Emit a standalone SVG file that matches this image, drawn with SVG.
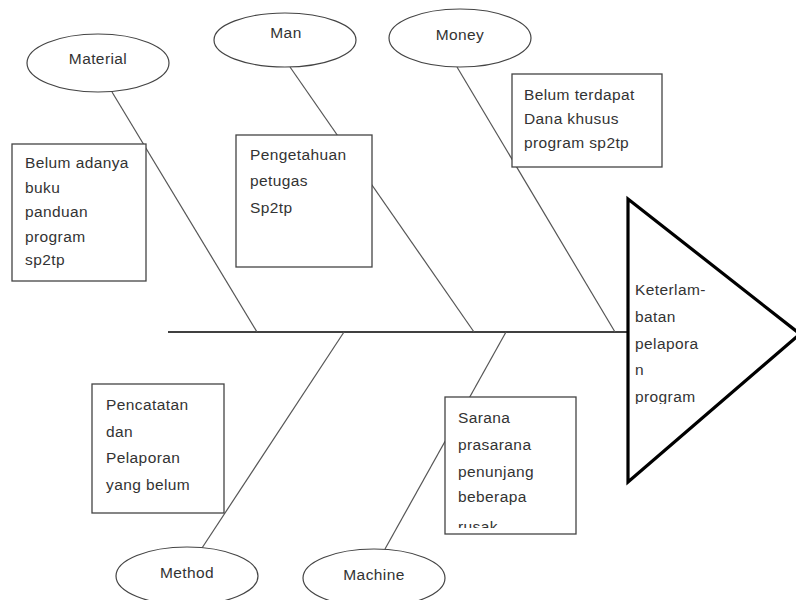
<svg xmlns="http://www.w3.org/2000/svg" width="796" height="600" viewBox="0 0 796 600">
<style>
.bone{stroke:#555;stroke-width:1.2;fill:none}
.spine{stroke:#000;stroke-width:1.6;fill:none}
.oval{fill:#fff;stroke:#444;stroke-width:1.2}
.box{fill:#fff;stroke:#444;stroke-width:1.3}
.head{fill:#fff;stroke:#000;stroke-width:3.2;stroke-linejoin:miter}
text{font-family:"Liberation Sans",Arial,sans-serif;font-size:15.5px;letter-spacing:0.4px;fill:#333}
.lbl{text-anchor:middle}
</style>
<defs>
<clipPath id="clipMethod"><rect x="93" y="385" width="130" height="124"/></clipPath>
<clipPath id="clipMachine"><rect x="446" y="398" width="129" height="130"/></clipPath>
<clipPath id="clipHead"><rect x="629" y="200" width="170" height="204"/></clipPath>
</defs>
<rect width="796" height="600" fill="#fff"/>
<g id="connectors">
<line class="spine" x1="168" y1="332" x2="628" y2="332"/>
<line class="bone" x1="112" y1="92" x2="257" y2="332"/>
<line class="bone" x1="290" y1="67" x2="474" y2="332"/>
<line class="bone" x1="457" y1="67" x2="615" y2="332"/>
<line class="bone" x1="344" y1="332" x2="202" y2="548"/>
<line class="bone" x1="506" y1="332" x2="385" y2="549"/>
</g>
<g id="head">
<polygon class="head" points="628,199 628,482 800,334"/>
<g clip-path="url(#clipHead)">
<text x="635" y="295">Keterlam-</text>
<text x="635" y="322">batan</text>
<text x="635" y="349">pelapora</text>
<text x="635" y="375">n</text>
<text x="635" y="402">program</text>
</g>
</g>
<g id="material">
<ellipse class="oval" cx="98" cy="63" rx="71" ry="29"/>
<text class="lbl" x="98" y="64">Material</text>
</g>
<g id="man">
<ellipse class="oval" cx="285" cy="40" rx="71" ry="27"/>
<text class="lbl" x="286" y="38">Man</text>
</g>
<g id="money">
<ellipse class="oval" cx="460" cy="38" rx="71" ry="29"/>
<text class="lbl" x="460" y="40">Money</text>
</g>
<g id="method">
<ellipse class="oval" cx="187" cy="576" rx="71" ry="29"/>
<text class="lbl" x="187" y="578">Method</text>
</g>
<g id="machine">
<ellipse class="oval" cx="374" cy="578" rx="71" ry="29"/>
<text class="lbl" x="374" y="580">Machine</text>
</g>
<g id="cause-material">
<rect class="box" x="12" y="144" width="134" height="137"/>
<text x="25" y="168">Belum adanya</text>
<text x="25" y="193">buku</text>
<text x="25" y="217">panduan</text>
<text x="25" y="242">program</text>
<text x="25" y="265">sp2tp</text>
</g>
<g id="cause-man">
<rect class="box" x="236" y="135" width="136" height="132"/>
<text x="250" y="160">Pengetahuan</text>
<text x="250" y="186">petugas</text>
<text x="250" y="213">Sp2tp</text>
</g>
<g id="cause-money">
<rect class="box" x="512" y="74" width="150" height="93"/>
<text x="524" y="100">Belum terdapat</text>
<text x="524" y="124">Dana khusus</text>
<text x="524" y="148">program sp2tp</text>
</g>
<g id="cause-method">
<rect class="box" x="92" y="384" width="132" height="129"/>
<g clip-path="url(#clipMethod)">
<text x="106" y="410">Pencatatan</text>
<text x="106" y="437">dan</text>
<text x="106" y="463">Pelaporan</text>
<text x="106" y="490">yang belum</text>
</g>
</g>
<g id="cause-machine">
<rect class="box" x="445" y="397" width="131" height="137"/>
<g clip-path="url(#clipMachine)">
<text x="458" y="423">Sarana</text>
<text x="458" y="450">prasarana</text>
<text x="458" y="477">penunjang</text>
<text x="458" y="502">beberapa</text>
<text x="458" y="532">rusak</text>
</g>
</g>
</svg>
